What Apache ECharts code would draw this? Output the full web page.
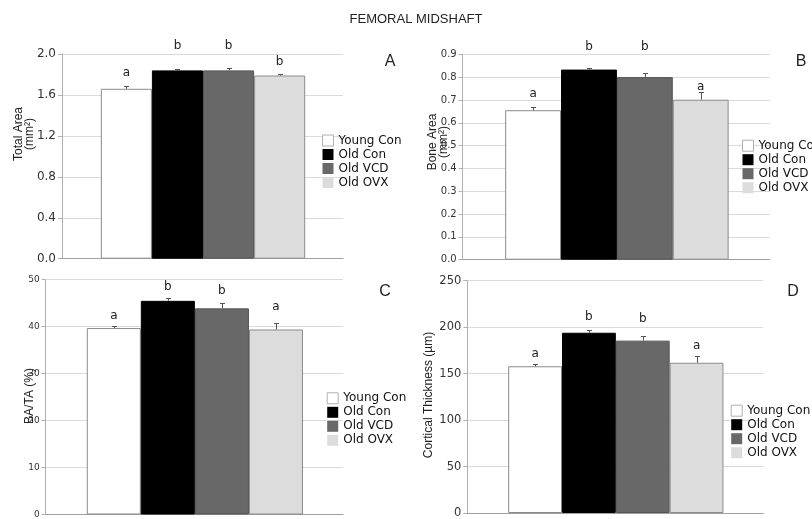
<!DOCTYPE html>
<html>
<head>
<meta charset="utf-8">
<script src="https://cdn.jsdelivr.net/npm/echarts@6/dist/echarts.min.js"></script>
<style>
  html, body { margin: 0; padding: 0; background: #fff; }
  #chart { width: 812px; height: 519px; }
</style>
</head>
<body>
<div id="chart"></div>
<script>
const myChart = echarts.init(document.getElementById('chart'));

// groups, in bar order
const groups = ['Young Con', 'Old Con', 'Old VCD', 'Old OVX'];
const groupX = [1, 2, 3, 4];

// A - total area (mm2)
const areaMean = [1.66, 1.84, 1.84, 1.79];
const areaErr = [0.025, 0.015, 0.025, 0.018];
const areaLetters = ['a', 'b', 'b', 'b'];
const areaLetterY = [1.817, 2.078, 2.078, 1.922];

// B - bone area (mm2)
const boneMean = [0.655, 0.833, 0.80, 0.701];
const boneErr = [0.013, 0.009, 0.017, 0.032];
const boneLetters = ['a', 'b', 'b', 'a'];
const boneLetterY = [0.726, 0.931, 0.931, 0.758];

// C - BA/TA (%)
const ratioMean = [39.7, 45.5, 43.9, 39.4];
const ratioErr = [0.5, 0.5, 1.2, 1.4];
const ratioLetters = ['a', 'b', 'b', 'a'];
const ratioLetterY = [42.4, 48.4, 47.7, 44.3];

// D - cortical thickness (um)
const thickMean = [157.9, 194.0, 185.5, 161.7];
const thickErr = [2.5, 3, 5.3, 7];
const thickLetters = ['a', 'b', 'b', 'a'];
const thickLetterY = [171.7, 210.6, 209.3, 179.8];

const fills = ['#ffffff', '#000000', '#686868', '#dcdcdc'];
const borders = ['#8a8a8a', '#000000', '#555555', '#8c8c8c'];

const panels = [
  { mean: areaMean, err: areaErr, letters: areaLetters, letterY: areaLetterY,
    grid: { left: 62, top: 54, width: 281, height: 204.7 },
    max: 2, interval: 0.4, digits: 1, fontSize: 12, legend: [322, 134.5] },
  { mean: boneMean, err: boneErr, letters: boneLetters, letterY: boneLetterY,
    grid: { left: 462.7, top: 54.3, width: 307.3, height: 205.4 },
    max: 0.9, interval: 0.1, digits: 1, fontSize: 10, legend: [742, 139.7] },
  { mean: ratioMean, err: ratioErr, letters: ratioLetters, letterY: ratioLetterY,
    grid: { left: 45.7, top: 279.7, width: 297.3, height: 236.6 },
    max: 50, interval: 10, digits: 0, fontSize: 9, legend: [326.7, 392.3] },
  { mean: thickMean, err: thickErr, letters: thickLetters, letterY: thickLetterY,
    grid: { left: 467.3, top: 280.7, width: 296, height: 235 },
    max: 250, interval: 50, digits: 0, fontSize: 11.5, legend: [730.7, 404.7] }
];

const grids = [], xAxes = [], yAxes = [], legends = [], series = [];

panels.forEach(function (p, i) {
  grids.push(p.grid);
  xAxes.push({
    type: 'value', gridIndex: i, min: -0.26, max: 5.24,
    axisLine: { show: true, onZero: false, lineStyle: { color: '#a0a0a0' } },
    axisTick: { show: false }, axisLabel: { show: false }, splitLine: { show: false }
  });
  yAxes.push({
    type: 'value', gridIndex: i, min: 0, max: p.max, interval: p.interval,
    axisLine: { show: true, onZero: false, lineStyle: { color: '#b0b0b0' } },
    axisTick: { show: true, length: 4, lineStyle: { color: '#b0b0b0' } },
    axisLabel: {
      fontSize: p.fontSize, color: '#333', margin: 6, fontFamily: 'DejaVu Sans',
      formatter: function (v) { return v.toFixed(p.digits); }
    },
    splitLine: { lineStyle: { color: '#dadada' } }
  });
  legends.push({
    orient: 'vertical', left: p.legend[0], top: p.legend[1], padding: 0,
    itemWidth: 11, itemHeight: 11, itemGap: 2, icon: 'rect',
    selectedMode: false,
    data: groups.map(function (g, j) {
      return { name: g, itemStyle: { color: fills[j], borderColor: '#b0b0b0', borderWidth: j === 0 ? 1 : 0 } };
    }),
    textStyle: { fontSize: 12, fontFamily: 'DejaVu Sans', color: '#111' }
  });
  groups.forEach(function (g, j) {
    series.push({
      name: g, type: 'bar', xAxisIndex: i, yAxisIndex: i,
      data: [[groupX[j], p.mean[j]]],
      barWidth: '100%', barGap: '-100%',
      itemStyle: { color: fills[j], borderColor: borders[j], borderWidth: 1 },
      emphasis: { disabled: true }, silent: true
    });
  });
  series.push({
    type: 'custom', xAxisIndex: i, yAxisIndex: i, z: 10, silent: true,
    data: groupX.map(function (x, j) { return [x, p.mean[j], p.err[j], p.letterY[j]]; }),
    renderItem: function (params, api) {
      const x = api.value(0), m = api.value(1), e = api.value(2), ly = api.value(3);
      const p0 = api.coord([x, m]);
      const p1 = api.coord([x, m + e]);
      const pl = api.coord([x, ly]);
      const cx = Math.round(p0[0]) + 0.5;
      const ty = Math.round(p1[1]) + 0.5;
      return {
        type: 'group',
        children: [
          { type: 'line', shape: { x1: cx, y1: p0[1], x2: cx, y2: ty }, style: { stroke: '#555', lineWidth: 1 } },
          { type: 'line', shape: { x1: cx - 2.5, y1: ty, x2: cx + 2.5, y2: ty }, style: { stroke: '#555', lineWidth: 1 } },
          { type: 'text', x: pl[0], y: pl[1], style: {
              text: p.letters[params.dataIndex], fontSize: 12, fontFamily: 'DejaVu Sans',
              fill: '#222', align: 'center', verticalAlign: 'middle' } }
        ]
      };
    }
  });
});

function label(text, x, y, size, rotate) {
  return {
    type: 'text', x: x, y: y, rotation: rotate ? Math.PI / 2 : 0,
    style: { text: text, fontSize: size, fontFamily: 'Liberation Sans', fill: '#222',
      align: 'center', verticalAlign: 'middle', lineHeight: 11 }
  };
}

const options = {
  animation: false,
  grid: grids,
  xAxis: xAxes,
  yAxis: yAxes,
  legend: legends,
  series: series,
  graphic: [
    label('FEMORAL MIDSHAFT', 416, 19, 13),
    label('A', 390, 62, 16), label('B', 801, 62, 16),
    label('C', 385, 292, 16), label('D', 793, 292, 16),
    label('Total Area\n(mm²)', 24, 134, 12, true),
    label('Bone Area\n(mm²)', 438, 142, 12, true),
    label('BA/TA (%)', 30, 396, 12, true),
    label('Cortical Thickness (µm)', 429, 395, 12, true)
  ]
};

myChart.setOption(options);
</script>
</body>
</html>
